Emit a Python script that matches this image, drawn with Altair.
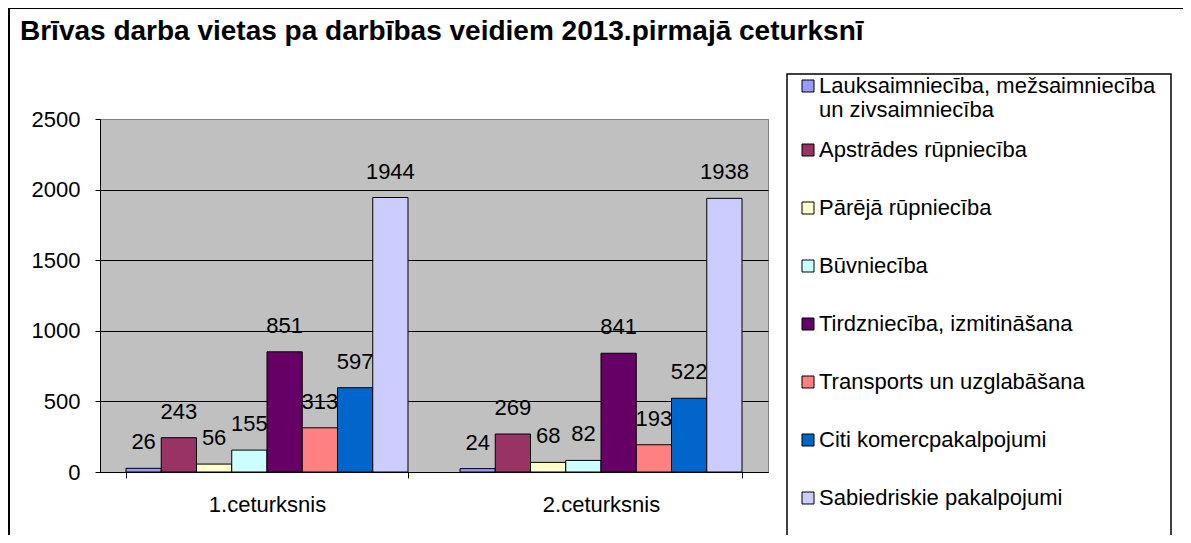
import altair as alt
import pandas as pd

# ---- data ----
title_text = "Brīvas darba vietas pa darbības veidiem 2013.pirmajā ceturksnī"
quarters = ["1.ceturksnis", "2.ceturksnis"]
categories = [
    "Lauksaimniecība, mežsaimniecība un zivsaimniecība",
    "Apstrādes rūpniecība",
    "Pārējā rūpniecība",
    "Būvniecība",
    "Tirdzniecība, izmitināšana",
    "Transports un uzglabāšana",
    "Citi komercpakalpojumi",
    "Sabiedriskie pakalpojumi",
]
first_label_lines = ["Lauksaimniecība, mežsaimniecība", "un zivsaimniecība"]
q1_values = [26, 243, 56, 155, 851, 313, 597, 1944]
q2_values = [24, 269, 68, 82, 841, 193, 522, 1938]
colors = ["#9999FF", "#993366", "#FFFFCC", "#CCFFFF",
          "#660066", "#FF8080", "#0066CC", "#CCCCFF"]
y_ticks = [0, 500, 1000, 1500, 2000, 2500]

rows = []
for q, vals in zip(quarters, [q1_values, q2_values]):
    for c, v in zip(categories, vals):
        rows.append({"quarter": q, "category": c, "value": v})
df = pd.DataFrame(rows)

FONT = "Liberation Sans"
FS = 22
W, H = 668, 353
PAD_L, PAD_T = 92, 111
PAD_R = 1175 - PAD_L - W
PAD_B = 527 - PAD_T - H

x_enc = alt.X(
    "quarter:N", sort=quarters,
    scale=alt.Scale(domain=quarters, paddingInner=0.1557, paddingOuter=0.0778),
    axis=alt.Axis(title=None, labelAngle=0, tickBand="extent", ticks=True,
                  tickSize=6, tickColor="black", domainColor="black",
                  labelFont=FONT, labelFontSize=FS, labelColor="black",
                  labelPadding=16, grid=False),
)
xo_enc = alt.XOffset("category:N", sort=categories,
                     scale=alt.Scale(domain=categories, paddingInner=0, paddingOuter=0))
y_enc = alt.Y(
    "value:Q",
    scale=alt.Scale(domain=[0, 2500], nice=False, zero=True),
    axis=alt.Axis(title=None, values=y_ticks, format="d", grid=True,
                  gridColor={"condition": {"test": "datum.value >= 2500", "value": "#808080"},
                             "value": "black"},
                  gridWidth=1, domainColor="black", tickColor="black", tickSize=5,
                  labelFont=FONT, labelFontSize=FS, labelColor="black", labelPadding=15),
)

label_expr = (
    "datum.label == '" + categories[0] + "' ? ['" + first_label_lines[0]
    + "', '" + first_label_lines[1] + "'] : datum.label"
)
legend = alt.Legend(
    title=None, orient="none", legendX=697, legendY=-62, direction="vertical",
    clipHeight=58, rowPadding=0, padding=0,
    symbolType="square", symbolSize=144, symbolStrokeColor="black",
    symbolStrokeWidth=1, symbolOpacity=1,
    labelFont=FONT, labelFontSize=FS, labelColor="black", labelOffset=0,
    labelLimit=600, labelBaseline="middle", labelExpr=label_expr,
)
color_enc = alt.Color("category:N", scale=alt.Scale(domain=categories, range=colors),
                      legend=legend)

base = alt.Chart(df)
layers = []
for c in categories:
    sub = base.transform_filter(alt.FieldEqualPredicate(field="category", equal=c))
    bars = sub.mark_bar(stroke="black", strokeWidth=1, opacity=1).encode(
        x=x_enc, xOffset=xo_enc, y=y_enc, color=color_enc)
    texts = sub.mark_text(font=FONT, fontSize=FS, color="black", align="center",
                          baseline="alphabetic", dy=-19).encode(
        x=x_enc, xOffset=xo_enc, y=y_enc, text=alt.Text("value:Q"))
    layers += [bars, texts]

one = alt.Chart(pd.DataFrame({"k": [0]}))
outer_border = one.mark_rect(fillOpacity=0, stroke="black", strokeWidth=2).encode(
    x=alt.value(-91), x2=alt.value(W + 600), y=alt.value(-111), y2=alt.value(H + 300))
legend_box = one.mark_rect(fillOpacity=0, stroke="black", strokeWidth=1.5).encode(
    x=alt.value(687), x2=alt.value(1071), y=alt.value(-45), y2=alt.value(H + 300))
title = one.mark_text(text=title_text, font=FONT, fontSize=28, fontWeight="bold",
                      color="black", align="left", baseline="alphabetic").encode(
    x=alt.value(-80), y=alt.value(-79))

chart = alt.layer(*layers, outer_border, legend_box, title).properties(
    width=W, height=H,
    autosize=alt.AutoSizeParams(type="none"),
    padding={"left": PAD_L, "top": PAD_T, "right": PAD_R, "bottom": PAD_B},
    background="white",
).configure_view(fill="#C0C0C0", stroke="#808080", strokeWidth=1)

chart.save("out.html", embed_options={"renderer": "svg", "actions": False})
